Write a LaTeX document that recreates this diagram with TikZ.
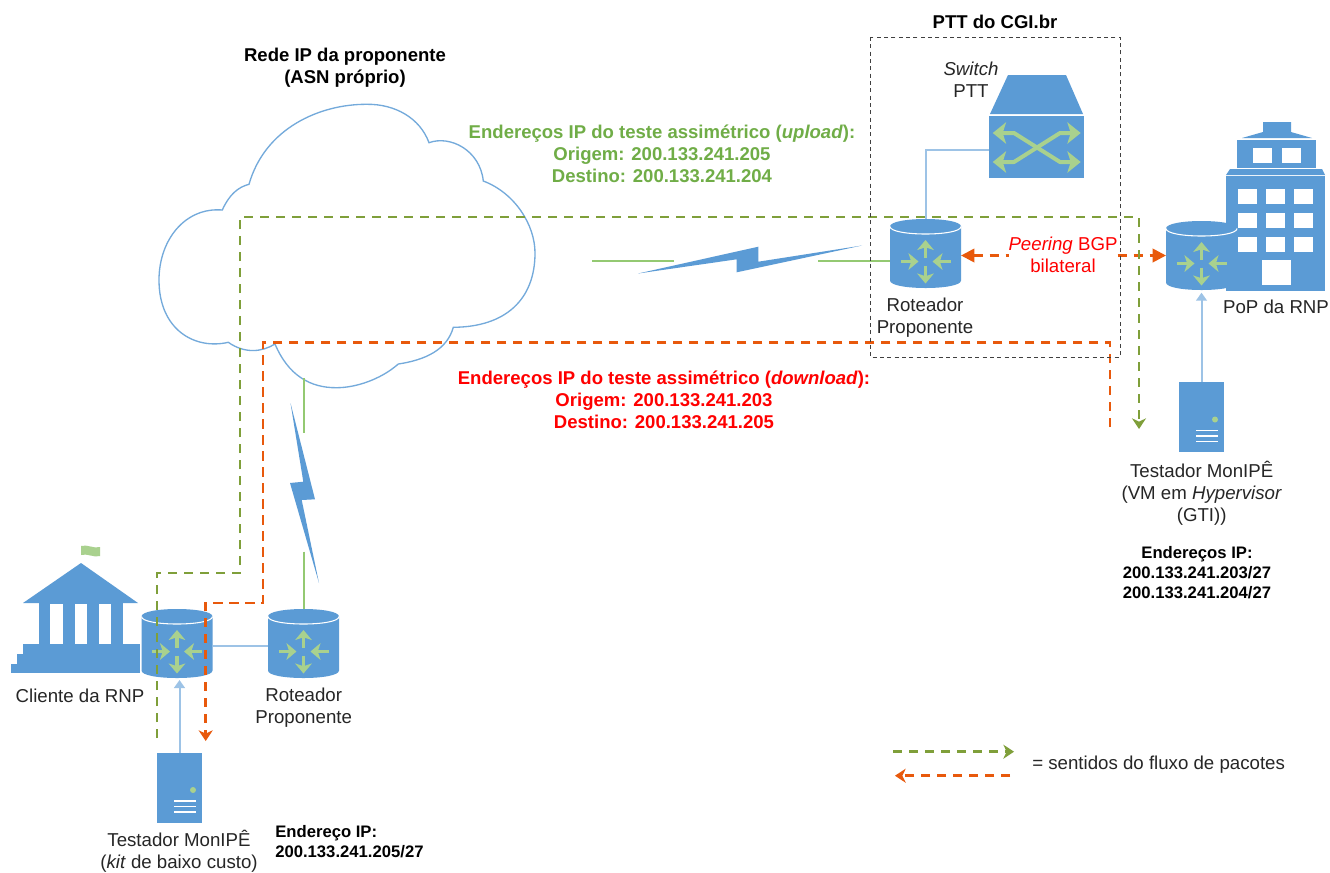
\documentclass[tikz,border=0pt]{standalone}
\usepackage{fontspec}
\setmainfont{Liberation Sans}
\usetikzlibrary{arrows.meta}

\definecolor{azul}{HTML}{5B9BD5}
\definecolor{azulclaro}{HTML}{9DC3E6}
\definecolor{verdeclaro}{HTML}{A9D18E}
\definecolor{verdelink}{HTML}{94C972}
\definecolor{verdefluxo}{HTML}{7F9F3A}
\definecolor{verdetexto}{HTML}{70AD47}
\definecolor{laranja}{HTML}{E8590C}

\tikzset{
    rotulo/.style={font=\fontsize{14}{16.5}\selectfont, align=center, inner sep=0pt, text=black!85},
    negrito/.style={font=\fontsize{13.9}{16.5}\selectfont\bfseries, align=center, inner sep=0pt},
    endereco/.style={font=\fontsize{12.5}{15}\selectfont\bfseries, inner sep=0pt},
    routerbox/.style={minimum width=53.25pt, minimum height=51.75pt, inner sep=0pt, outer sep=0pt},
    serverbox/.style={minimum width=33.75pt, minimum height=52.5pt, inner sep=0pt, outer sep=0pt},
    fluxoverde/.style={draw=verdefluxo, line width=2pt, dash pattern=on 7pt off 5pt},
    fluxolaranja/.style={draw=laranja, line width=2pt, dash pattern=on 7pt off 5pt},
    cabeca/.style={-{Stealth[length=8pt,width=10.5pt,inset=2.5pt]}},
    ligacao/.style={draw=azulclaro, line width=1.5pt},
    radio/.style={draw=verdelink, line width=1.5pt},
    seta/.style={draw=verdeclaro, line width=2.8pt, -{Stealth[length=7.5pt,width=12.5pt,inset=2pt]}},
    raio/.style={fill=azul},
    router/.pic={
        \fill[azul] (-35.5,-27) .. controls (-35.5,-37) and (35.5,-37) .. (35.5,-27)
            -- (35.5,27) .. controls (35.5,37) and (-35.5,37) .. (-35.5,27) -- cycle;
        \draw[white, line width=0.8pt] (-35.5,-27) .. controls (-35.5,-17) and (35.5,-17) .. (35.5,-27);
        \draw[seta] (0,4) -- (0,-13.5);
        \draw[seta] (0,12) -- (0,30);
        \draw[seta] (-25,8) -- (-7,8);
        \draw[seta] (25,8) -- (7,8);
    },
    server/.pic={
        \fill[azul] (-22.5,-35) rectangle (22.5,35);
        \fill[verdeclaro] (13.5,2.5) circle (3);
        \foreach \yl in {13.5,19,24.5}
            \draw[white, line width=0.8pt] (-5.5,\yl) -- (16.5,\yl);
    }
}

\begin{document}
\begin{tikzpicture}[x=0.75pt, y=-0.75pt]
    \useasboundingbox (0,0) rectangle (1330,872);
    \fill[white] (0,0) rectangle (1330,872);

    %nuvem
    \draw[draw=azul!85, line width=1pt, fill=white] (222.3,210)
        .. controls (229,195) and (238,187) .. (249,184.3)
        .. controls (265,128) and (320,104) .. (367,104.3)
        .. controls (395,104) and (420,118) .. (429,142.7)
        .. controls (450,135) and (480,150) .. (483.3,181)
        .. controls (515,193) and (535,225) .. (535,253)
        .. controls (535,300) and (505,327) .. (453.3,327.3)
        .. controls (447,350) and (425,360) .. (398.3,364)
        .. controls (380,380) and (355,387.7) .. (336.7,387.7)
        .. controls (310,388) and (288,375) .. (275,344)
        .. controls (262,352) and (245,354) .. (228.3,342.3)
        .. controls (195,350) and (159,330) .. (159,280)
        .. controls (159,240) and (185,207) .. (222.3,210) -- cycle;

    %predio do cliente
    \fill[azul] (81,563) -- (138,603) -- (23,603) -- cycle;
    \fill[azul] (39,603) rectangle (123,645);
    \fill[azul] (23,644) rectangle (140,654);
    \fill[azul] (17,654) rectangle (140,664);
    \fill[azul] (11,664) rectangle (140,673);
    \fill[white] (50,603.5) rectangle (63,644);
    \fill[white] (75,603.5) rectangle (87,644);
    \fill[white] (99,603.5) rectangle (111,644);
    \fill[verdeclaro] (81,546) .. controls (87,544) and (94,549) .. (100,547)
        -- (100,556) .. controls (94,558) and (87,553) .. (81,555) -- cycle;

    %predio do PoP
    \fill[azul] (1263,122) -- (1291,122) -- (1291,132) -- (1312,138) -- (1242,138) -- (1263,132) -- cycle;
    \fill[azul] (1237,140) rectangle (1316,168);
    \fill[azul] (1226,175) -- (1230,169) -- (1322,169) -- (1325,175) -- cycle;
    \fill[azul] (1226,175.5) rectangle (1325,291);
    \fill[white] (1253,148) rectangle (1272,163);
    \fill[white] (1282,148) rectangle (1301,163);
    \foreach \xj in {1238,1266,1294}
        \foreach \yj in {189,213,237}
            \fill[white] (\xj,\yj) rectangle ++(19,15);
    \fill[white] (1262,260) rectangle (1291,285);

    %switch
    \fill[azul] (990,114) -- (1008,75) -- (1066,75) -- (1083,114) -- cycle;
    \fill[azul] (989,116) rectangle (1084,178);
    \draw[verdeclaro, line width=3pt, line join=round, {Stealth[length=10pt,width=16pt,inset=2.5pt]}-{Stealth[length=10pt,width=16pt,inset=2.5pt]}]
        (992.7,133) -- (1014,133) -- (1060,162) -- (1080.7,162);
    \draw[verdeclaro, line width=3pt, line join=round, {Stealth[length=10pt,width=16pt,inset=2.5pt]}-{Stealth[length=10pt,width=16pt,inset=2.5pt]}]
        (992.7,162) -- (1014,162) -- (1060,133) -- (1080.7,133);

    %equipamentos
    \node[routerbox] (rotCliente) at (177,643.5) {};
    \node[routerbox] (rotRede) at (303.5,643.5) {};
    \node[routerbox] (rotPTT) at (925.5,253.5) {};
    \node[routerbox] (rotPoP) at (1201.5,255.5) {};
    \node[serverbox] (servCliente) at (179.5,787.5) {};
    \node[serverbox] (servPoP) at (1201.5,417) {};
    \coordinate (swPorta) at (989,150);
    \coordinate (radioE1) at (592,261);
    \coordinate (radioE2) at (674,261);
    \coordinate (radioD) at (818,261);
    \coordinate (radioS1) at (303.5,378);
    \coordinate (radioS2) at (303.5,432.7);
    \coordinate (radioI) at (303.5,551.7);

    %ligacoes
    \draw[ligacao] (rotCliente.east |- 0,646) -- (rotRede.west |- 0,646);
    \draw[ligacao] (swPorta) -| (rotPTT.north);
    \draw[ligacao, -{Triangle[length=6pt,width=8pt]}] (servCliente.north) -- ([yshift=-1.5pt]servCliente.north |- rotCliente.south);
    \draw[ligacao, -{Triangle[length=6pt,width=8pt]}] (servPoP.north) -- ([yshift=-2pt]rotPoP.south);
    \draw[radio] (radioE1) -- (radioE2);
    \draw[radio] (radioD) -- (rotPTT.west |- radioD);
    \draw[radio] (radioS1) -- (radioS2);
    \draw[radio] (radioI) -- (rotRede.north);

    %raios
    \fill[raio] (638,273.5) -- (758.3,246.7) -- (758.3,261.7) -- (862,245.5) -- (736.7,272.3) -- (736.7,259.3) -- cycle;
    \fill[raio] (290.5,403) -- (315,499.3) -- (301.7,500) -- (319,583) -- (290,483) -- (303.3,481.7) -- cycle;

    %icones
    \pic at (rotCliente) {router};
    \pic at (rotRede) {router};
    \pic at (rotPTT) {router};
    \pic at (rotPoP) {router};
    \pic at (servCliente) {server};
    \pic at (servPoP) {server};

    %peering
    \draw[fluxolaranja, {Triangle[length=10pt,width=10pt]}-{Triangle[length=10pt,width=10pt]}] (rotPTT.east |- rotPoP.west) -- (rotPoP.west);
    \node[rotulo, text=red, fill=white] (peering) at (1063,255) {\textit{Peering} BGP\\bilateral};

    %fluxos
    \coordinate (verdeIni) at (157,738);
    \coordinate (verdeFim) at (1139,429);
    \coordinate (laranjaIni) at (1110,427);
    \coordinate (laranjaFim) at (205.7,741);
    \draw[fluxoverde, cabeca] (verdeIni) -- (157,573) -- (240,573) -- (240,217) -- (1139,217) -- (verdeFim);
    \draw[fluxolaranja, cabeca] (laranjaIni) -- (1110,342.7) -- (263,342.7) -- (263,603) -- (205.7,603) -- (laranjaFim);

    %caixa do PTT
    \draw[black!75, line width=0.7pt, dash pattern=on 3pt off 2.5pt] (870,37) rectangle (1120,357);

    %legenda
    \coordinate (legVerdeA) at (893,751.7);
    \coordinate (legVerdeB) at (1014,751.7);
    \coordinate (legLaranjaA) at (1010,775.7);
    \coordinate (legLaranjaB) at (895,775.7);
    \draw[fluxoverde, cabeca] (legVerdeA) -- (legVerdeB);
    \draw[fluxolaranja, cabeca] (legLaranjaA) -- (legLaranjaB);
    \node[rotulo, anchor=west] (legenda) at (1032,765) {= sentidos do fluxo de pacotes};

    %etiquetas
    \node[negrito] (tituloRede) at (345,68) {Rede IP da proponente\\(ASN próprio)};
    \node[negrito] (tituloPTT) at (995,22) {PTT do CGI.br};
    \node[rotulo] (txtSwitch) at (971,79.5) {\textit{Switch}\\PTT};
    \node[negrito, text=verdetexto] (txtUpload) at (662,154) {Endereços IP do teste assimétrico (\textit{upload}):\\Origem: 200.133.241.205\\Destino: 200.133.241.204};
    \node[negrito, text=red] (txtDownload) at (664,399.5) {Endereços IP do teste assimétrico (\textit{download}):\\Origem: 200.133.241.203\\Destino: 200.133.241.205};
    \node[rotulo] (txtRotPTT) at (925,317.5) {Roteador\\Proponente};
    \node[rotulo] (txtPoP) at (1276,307) {PoP da RNP};
    \node[rotulo] (txtCliente) at (80,696) {Cliente da RNP};
    \node[rotulo] (txtRotRede) at (303.7,707.5) {Roteador\\Proponente};
    \node[rotulo] (txtServCliente) at (179,851.5) {Testador MonIPÊ\\(\textit{kit} de baixo custo)};
    \node[rotulo] (txtServPoP) at (1201.7,493) {Testador MonIPÊ\\(VM em \textit{Hypervisor}\\(GTI))};
    \node[endereco, anchor=west, align=left] (ipCliente) at (275,842) {Endereço IP:\\200.133.241.205/27};
    \node[endereco, align=center] (ipPoP) at (1197,573) {Endereços IP:\\200.133.241.203/27\\200.133.241.204/27};
\end{tikzpicture}
\end{document}
